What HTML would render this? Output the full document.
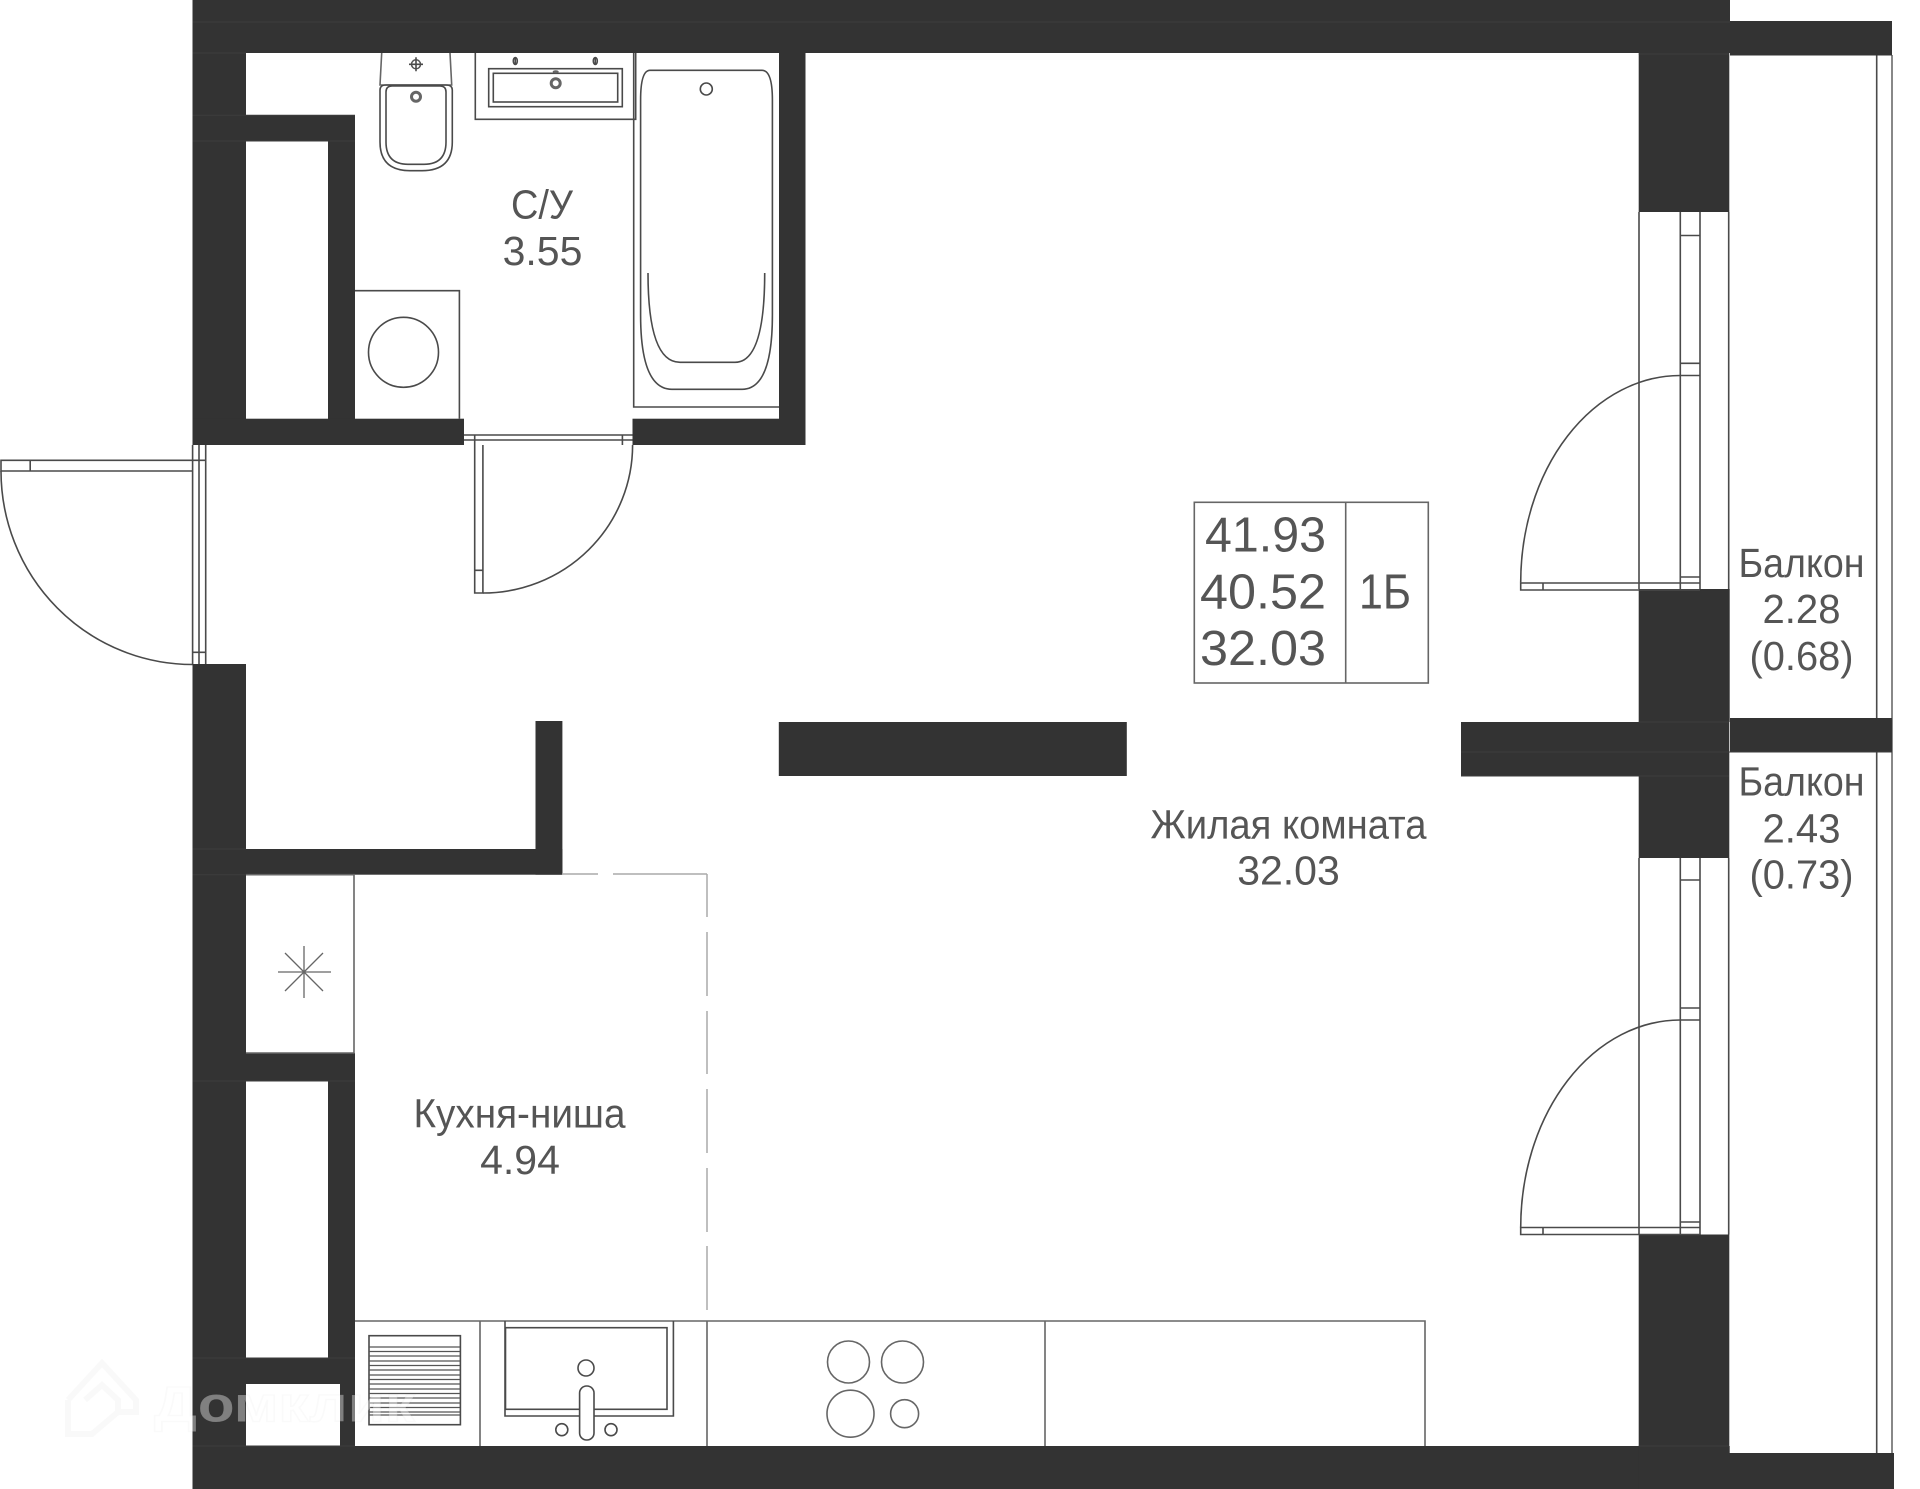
<!DOCTYPE html>
<html><head><meta charset="utf-8"><style>
html,body{margin:0;padding:0;background:#fff}
svg{display:block}
text{font-family:"Liberation Sans",sans-serif;fill:#555}
.w{fill:#333}
.l{fill:none;stroke:#4a4a4a;stroke-width:1.6}
.m{fill:none;stroke:#666;stroke-width:1.6}
.t{font-size:41px;text-anchor:middle}
.n{font-size:49px;text-anchor:end}
</style></head><body>
<svg xmlns="http://www.w3.org/2000/svg" width="1920" height="1489" viewBox="0 0 1920 1489">
<rect width="1920" height="1489" fill="#fff"/>

<!-- balcony lines -->
<path class="l" d="M1876.7 55V1453"/>
<path d="M1892 55V1453" fill="none" stroke="#888" stroke-width="2"/>

<!-- walls -->
<g class="w">
<rect x="192.5" y="0" width="1537.5" height="53"/>
<rect x="1730" y="21" width="162" height="34.5"/>
<rect x="192.5" y="0" width="53.5" height="445"/>
<rect x="246" y="115.3" width="109" height="25.7"/>
<rect x="328" y="115.3" width="27" height="320"/>
<rect x="192.5" y="418.7" width="271.5" height="26.3"/>
<rect x="632.5" y="418.7" width="173" height="26.3"/>
<rect x="779" y="53" width="26.5" height="392"/>
<rect x="1638.7" y="53" width="90.6" height="159"/>
<rect x="192.5" y="664" width="53.5" height="825"/>
<rect x="535.5" y="721" width="26.9" height="153.7"/>
<rect x="246" y="849" width="316.4" height="25.7"/>
<rect x="246" y="1053" width="109" height="28"/>
<rect x="328" y="1053" width="27" height="305"/>
<rect x="246" y="1358" width="109" height="26"/>
<rect x="340" y="1384" width="15" height="62"/>
<rect x="192.5" y="1446" width="1446.5" height="43"/>
<rect x="1638.7" y="1446" width="91" height="43"/>
<rect x="1729" y="1453" width="165" height="36"/>
<rect x="778.8" y="722" width="348" height="54"/>
<rect x="1461" y="722" width="268.3" height="54"/>
<rect x="1730" y="718" width="162" height="34"/>
<rect x="1638.7" y="589" width="91" height="133"/>
<rect x="1638.7" y="776" width="90.6" height="82"/>
<rect x="1638.7" y="1234.5" width="90.6" height="212"/>
</g>
<!-- wall seams -->
<path fill="none" stroke="#3c3c3c" stroke-width="1" d="M192.5 22H1730M192.5 53H246M1638.7 54H1729M192.5 115.3H355M192.5 141H355M192.5 849H246M192.5 874.7H246M192.5 1081H355M192.5 1358H355M192.5 1446H355M1461 752H1892M1638.7 722H1729M1461 776H1729M1638.7 1446H1729"/>

<!-- bathroom door -->
<path class="l" d="M464 435H632.6M464 440H632.6M474.7 435V445M622.4 435V445"/>
<path class="l" d="M474.7 445V593H482.9V445M474.7 570.3H482.9"/>
<path class="l" d="M482.9 593A149.7 148 0 0 0 632.6 445"/>

<!-- entrance door -->
<path class="l" d="M192.6 445V664M199 445V664M205.7 445V664M192.6 652.3H205.7"/>
<path class="l" d="M205.7 460.3H1V471H192.6M30.2 460.3V471"/>
<path class="l" d="M1 471A191.6 193.5 0 0 0 192.6 664.5"/>

<!-- balcony door 1 -->
<path class="l" d="M1639 212V589M1680.3 212V589M1700 212V589M1728.7 212V589"/>
<path class="l" d="M1680.3 235.5H1700M1680.3 363.3H1700M1680.3 375.5H1700M1680.3 577H1700"/>
<path class="l" d="M1700 583H1520.7V590H1700M1543 583V590"/>
<path class="l" d="M1520.7 582.4A159.6 207 0 0 1 1680.3 375.5"/>

<!-- balcony door 2 -->
<path class="l" d="M1639 858V1234.5M1680.3 858V1234.5M1700 858V1234.5M1728.7 858V1234.5"/>
<path class="l" d="M1680.3 880H1700M1680.3 1008H1700M1680.3 1020H1700M1680.3 1222H1700"/>
<path class="l" d="M1700 1227.5H1520.7V1234.5H1700M1543 1227.5V1234.5"/>
<path class="l" d="M1520.7 1227.5A159.6 207.5 0 0 1 1680.3 1020"/>

<!-- toilet -->
<path class="m" d="M381.7 53L380 85H451.7L450 53"/>
<path class="l" d="M380 90Q380 85 386 85H446Q452.3 85 452.3 90V142Q452.3 170.7 422 170.7H410Q380 170.7 380 142Z"/>
<path class="l" d="M386 92Q386 86 392 86H440Q446 86 446 92V142Q446 164.3 424 164.3H408Q386 164.3 386 142Z"/>
<circle cx="416" cy="96.7" r="4.5" fill="none" stroke="#666" stroke-width="3"/>
<circle cx="416" cy="64.3" r="4.5" fill="none" stroke="#555" stroke-width="1.5"/>
<path class="l" d="M409 64.3H423M416 57.3V71.3"/>

<!-- sink -->
<path class="l" d="M475.3 53V119.3H635.7V53"/>
<rect class="l" x="488.7" y="68.7" width="133.6" height="38"/>
<rect class="l" x="493.3" y="73.3" width="124.4" height="28.7"/>
<circle cx="555.7" cy="83.3" r="4.5" fill="none" stroke="#666" stroke-width="3"/>
<ellipse cx="555.7" cy="71.7" rx="3" ry="1.5" fill="#666"/>
<ellipse class="l" cx="515.3" cy="61" rx="2" ry="3.5"/>
<path class="l" d="M515.3 57V65"/>
<ellipse class="l" cx="595.3" cy="61" rx="2" ry="3.5"/>
<path class="l" d="M595.3 57V65"/>

<!-- bath -->
<path class="l" d="M633.7 53V407H779"/>
<path class="l" d="M640.6 100Q640.6 70.3 650 70.3H762Q772.4 70.3 772.4 100V315Q772.4 389.3 742 389.3H672Q640.6 389.3 640.6 315Z"/>
<path class="l" d="M648 273Q648 362.3 680 362.3H735Q764.7 362.3 764.7 273"/>
<circle class="l" cx="706.3" cy="89" r="6"/>

<!-- washer -->
<path class="l" d="M355 290.7H459.4V418.7"/>
<circle class="l" cx="403.5" cy="352.3" r="35"/>

<!-- vent shaft -->
<path class="m" d="M246 874.7H354V1053H246"/>
<path d="M278 972H331M304 946V998M285 953L323 991M323 953L285 991" fill="none" stroke="#666" stroke-width="1.3"/>

<!-- dashed -->
<path fill="none" stroke="#aaa" stroke-width="1.5" d="M562 874H598M613 874H707M707 874V917M707 932V996M707 1011V1074M707 1089V1153M707 1168V1232M707 1246V1310"/>

<!-- kitchen -->
<path class="m" d="M355 1321H1425V1446M480 1321V1446M707 1321V1446M1045 1321V1446"/>
<rect class="l" x="369" y="1335.7" width="91.4" height="89"/>
<path d="M369 1347H460M369 1351.5H460M369 1356H460M369 1361H460M369 1365.5H460M369 1370H460M369 1375H460M369 1379.5H460M369 1384H460M369 1389H460M369 1393.5H460M369 1398H460M369 1403H460M369 1407.5H460M369 1412H460M369 1415H460" fill="none" stroke="#555" stroke-width="1.3"/>
<path class="l" d="M505 1321V1416H673.4V1321"/>
<rect class="l" x="505.5" y="1327.7" width="161.5" height="81.6"/>
<circle class="l" cx="586" cy="1368" r="8" style="fill:#fff"/>
<rect class="l" style="fill:#fff" x="579.6" y="1386" width="14.4" height="54" rx="7"/>
<circle class="l" cx="561.8" cy="1429.7" r="6"/>
<circle class="l" cx="611" cy="1429.7" r="6"/>
<circle class="m" cx="848.5" cy="1362" r="21"/>
<circle class="m" cx="902.5" cy="1362" r="21"/>
<circle class="m" cx="850.5" cy="1413.7" r="23.5"/>
<circle class="m" cx="904.6" cy="1413.7" r="14"/>

<!-- table -->
<rect class="m" x="1194.3" y="502.3" width="234" height="180.7"/>
<path class="m" d="M1345.7 502.3V683"/>
<text class="n" x="1326" y="551.7" textLength="121" lengthAdjust="spacingAndGlyphs">41.93</text>
<text class="n" x="1326" y="608.3" textLength="126" lengthAdjust="spacingAndGlyphs">40.52</text>
<text class="n" x="1326" y="665" textLength="126" lengthAdjust="spacingAndGlyphs">32.03</text>
<text x="1359" y="608.3" font-size="49" textLength="52" lengthAdjust="spacingAndGlyphs">1Б</text>

<!-- labels -->
<text class="t" x="542" y="218.7" textLength="62" lengthAdjust="spacingAndGlyphs">С/У</text>
<text class="t" x="542.5" y="265">3.55</text>
<text class="t" x="1288.5" y="838.7" textLength="276" lengthAdjust="spacingAndGlyphs">Жилая комната</text>
<text class="t" x="1288.5" y="884.3">32.03</text>
<text class="t" x="519.5" y="1127.7" textLength="212" lengthAdjust="spacingAndGlyphs">Кухня-ниша</text>
<text class="t" x="520" y="1174">4.94</text>
<text class="t" x="1801.5" y="577" textLength="126" lengthAdjust="spacingAndGlyphs">Балкон</text>
<text class="t" x="1801.5" y="623" textLength="78" lengthAdjust="spacingAndGlyphs">2.28</text>
<text class="t" x="1801.5" y="670" textLength="104" lengthAdjust="spacingAndGlyphs">(0.68)</text>
<text class="t" x="1801.5" y="795.6" textLength="126" lengthAdjust="spacingAndGlyphs">Балкон</text>
<text class="t" x="1801.5" y="842.4" textLength="78" lengthAdjust="spacingAndGlyphs">2.43</text>
<text class="t" x="1801.5" y="888.7" textLength="104" lengthAdjust="spacingAndGlyphs">(0.73)</text>

<!-- watermark -->
<path d="M68 1400L102 1363L136 1400V1412H118M68 1400V1434H92L118 1412M85 1400L102 1385L118 1400V1412" fill="none" stroke="#000" stroke-opacity=".025" stroke-width="6"/>
<text x="154" y="1421.7" font-size="50" font-weight="700" textLength="261" lengthAdjust="spacingAndGlyphs" style="fill:#fff;fill-opacity:.38;stroke:#000;stroke-opacity:.02;stroke-width:1.5">Домклик</text>
</svg>
</body></html>
